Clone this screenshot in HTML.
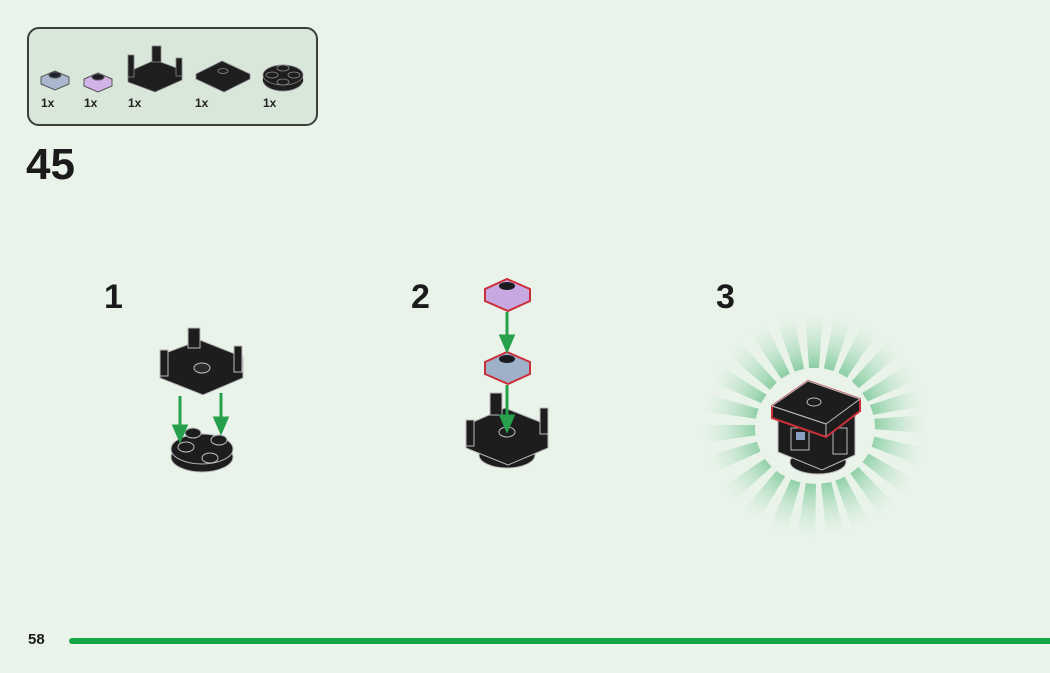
<!DOCTYPE html>
<html><head><meta charset="utf-8"><style>
html,body{margin:0;padding:0;}
body{width:1050px;height:673px;background:#e9f3ea;position:relative;overflow:hidden;font-family:"Liberation Sans",sans-serif;}
.box{position:absolute;left:27px;top:27px;width:291px;height:99px;border:2px solid #3a3f3a;border-radius:12px;background:#d9e6da;box-sizing:border-box;}
.q{position:absolute;top:96px;font-size:12px;font-weight:bold;color:#222;}
.num{position:absolute;font-weight:bold;color:#1b1b1b;}
svg{position:absolute;left:0;top:0;}
</style></head><body>
<div class="box"></div>
<div class="q" style="left:41px">1x</div>
<div class="q" style="left:84px">1x</div>
<div class="q" style="left:128px">1x</div>
<div class="q" style="left:195px">1x</div>
<div class="q" style="left:263px">1x</div>
<div class="num" style="left:26px;top:140px;font-size:44px;">45</div>
<div class="num" style="left:104px;top:278px;font-size:34px;">1</div>
<div class="num" style="left:411px;top:278px;font-size:34px;">2</div>
<div class="num" style="left:716px;top:278px;font-size:34px;">3</div>
<div class="num" style="left:28px;top:631px;font-size:15px;">58</div>
<svg width="1050" height="673" viewBox="0 0 1050 673">
<defs>
<linearGradient id="rg" x1="0" x2="1"><stop offset="0" stop-color="#86cc9f" stop-opacity="0.95"/><stop offset="1" stop-color="#c8e8d2" stop-opacity="0"/></linearGradient>
<g id="ray"><polygon points="872,419 928,415 928,433 872,429" fill="url(#rg)"/></g>
</defs>
<line x1="72" y1="641" x2="1050" y2="641" stroke="#14a544" stroke-width="6" stroke-linecap="round"/>
<g stroke="#555" stroke-width="1">
<polygon points="41,77 55,71 69,77 69,84 55,90 41,84" fill="#a9b8cf"/>
<ellipse cx="55" cy="75" rx="6" ry="3" fill="#1f2430"/>
<polygon points="84,79 98,73 112,79 112,86 98,92 84,86" fill="#d2b3e8"/>
<ellipse cx="98" cy="77" rx="6" ry="3" fill="#1f1a25"/>
</g>
<g fill="#1e1e1e" stroke="#888" stroke-width="0.8">
<polygon points="128,72 155,60 182,70 182,80 155,92 128,82"/>
<rect x="128" y="55" width="6" height="22"/><rect x="152" y="46" width="9" height="16"/><rect x="176" y="58" width="6" height="18"/>
<polygon points="196,74 222,61 250,74 250,79 224,92 196,79"/>
<ellipse cx="223" cy="71" rx="5" ry="2.5" fill="#222"/>
<ellipse cx="283" cy="80" rx="20" ry="11"/><rect x="263" y="76" width="40" height="6" stroke="none"/><ellipse cx="283" cy="75" rx="20" ry="10"/>
<ellipse cx="283" cy="68" rx="6" ry="3"/><ellipse cx="272" cy="75" rx="6" ry="3"/><ellipse cx="294" cy="75" rx="6" ry="3"/><ellipse cx="283" cy="82" rx="6" ry="3"/>
</g>
<g fill="#1d1d1d" stroke="#bbb" stroke-width="1">
<ellipse cx="202" cy="457" rx="31" ry="15"/><ellipse cx="202" cy="449" rx="31" ry="15"/>
<ellipse cx="186" cy="447" rx="8" ry="5"/><ellipse cx="219" cy="440" rx="8" ry="5"/><ellipse cx="193" cy="433" rx="8" ry="5"/><ellipse cx="210" cy="458" rx="8" ry="5"/>
<polygon points="160,355 200,340 243,357 243,378 203,395 160,378"/>
<rect x="160" y="350" width="8" height="26"/><rect x="188" y="328" width="12" height="20"/><rect x="234" y="346" width="8" height="26"/>
<ellipse cx="202" cy="368" rx="8" ry="5" fill="#2a2a2a"/>
</g>
<g stroke="#27a04c" stroke-width="3" fill="#27a04c">
<line x1="180" y1="396" x2="180" y2="430"/><polygon points="174,426 186,426 180,440"/>
<line x1="221" y1="393" x2="221" y2="422"/><polygon points="215,418 227,418 221,432"/>
</g>
<g fill="#1d1d1d" stroke="#bbb" stroke-width="1">
<ellipse cx="507" cy="455" rx="28" ry="13"/>
<polygon points="466,425 505,408 548,425 548,448 508,465 466,448"/>
<rect x="466" y="420" width="8" height="26"/><rect x="490" y="393" width="12" height="22"/><rect x="540" y="408" width="8" height="26"/>
<ellipse cx="507" cy="432" rx="8" ry="5"/>
</g>
<g stroke="#cc2f3a" stroke-width="2">
<polygon points="485,289 507,279 530,289 530,301 508,311 485,301" fill="#c8a8e0"/>
<polygon points="485,362 507,352 530,362 530,374 508,384 485,374" fill="#9fb0c9"/>
</g>
<ellipse cx="507" cy="286" rx="8" ry="4" fill="#1b1b22"/>
<ellipse cx="507" cy="359" rx="8" ry="4" fill="#1b1b22"/>
<g stroke="#27a04c" stroke-width="3" fill="#27a04c">
<line x1="507" y1="312" x2="507" y2="340"/><polygon points="501,336 513,336 507,350"/>
<line x1="507" y1="385" x2="507" y2="420"/><polygon points="501,416 513,416 507,430"/>
</g>
<g>
<use href="#ray" transform="rotate(0 815 425)"/><use href="#ray" transform="rotate(17 815 425)"/><use href="#ray" transform="rotate(34 815 425)"/><use href="#ray" transform="rotate(50 815 425)"/><use href="#ray" transform="rotate(66 815 425)"/><use href="#ray" transform="rotate(80 815 425)"/><use href="#ray" transform="rotate(95 815 425)"/><use href="#ray" transform="rotate(110 815 425)"/><use href="#ray" transform="rotate(126 815 425)"/><use href="#ray" transform="rotate(142 815 425)"/><use href="#ray" transform="rotate(160 815 425)"/><use href="#ray" transform="rotate(176 815 425)"/><use href="#ray" transform="rotate(192 815 425)"/><use href="#ray" transform="rotate(208 815 425)"/><use href="#ray" transform="rotate(224 815 425)"/><use href="#ray" transform="rotate(240 815 425)"/><use href="#ray" transform="rotate(255 815 425)"/><use href="#ray" transform="rotate(270 815 425)"/><use href="#ray" transform="rotate(285 815 425)"/><use href="#ray" transform="rotate(300 815 425)"/><use href="#ray" transform="rotate(316 815 425)"/><use href="#ray" transform="rotate(332 815 425)"/><use href="#ray" transform="rotate(346 815 425)"/>
</g>
<ellipse cx="815" cy="428" rx="60" ry="56" fill="#e9f3ea"/>
<g fill="#1d1d1d" stroke="#bbb" stroke-width="1">
<ellipse cx="818" cy="462" rx="28" ry="12"/>
<polygon points="778,420 855,412 855,455 822,470 778,452"/>
<rect x="791" y="428" width="18" height="22" fill="#1d1d1d"/><rect x="796" y="432" width="9" height="8" fill="#8a9fbf" stroke="none"/>
<rect x="833" y="428" width="14" height="26"/>
</g>
<g stroke="#cc2f3a" stroke-width="2" fill="#1d1d1d">
<polygon points="772,406 808,381 860,399 860,411 826,437 772,418"/>
</g>
<polygon points="772,406 808,381 860,399 826,424" fill="#1d1d1d" stroke="#bbb" stroke-width="1"/>
<line x1="772" y1="406" x2="826" y2="424" stroke="#bbb"/><line x1="826" y1="424" x2="826" y2="436" stroke="#bbb"/>
<ellipse cx="814" cy="402" rx="7" ry="4" fill="#1d1d1d" stroke="#bbb"/>
</svg>
</body></html>
